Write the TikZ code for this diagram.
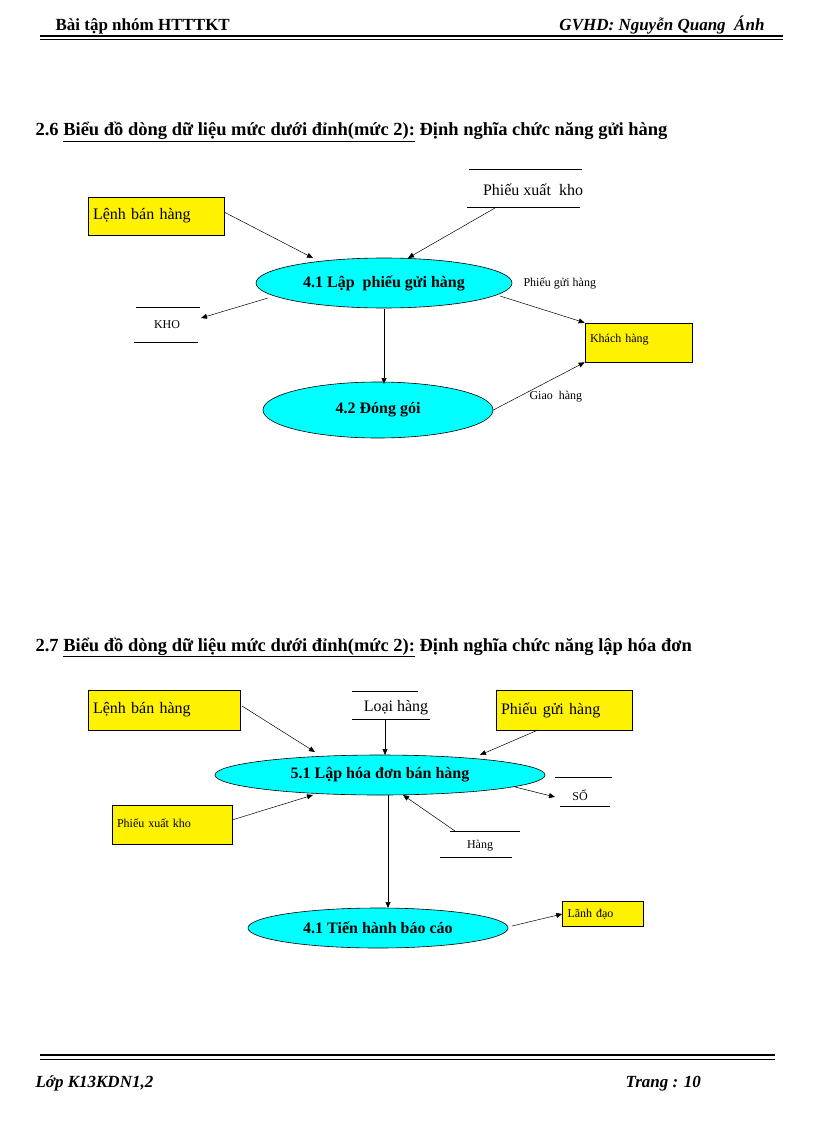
\documentclass[tikz,border=0pt]{standalone}
\usepackage{fontspec}
\setmainfont{Liberation Serif}
\usetikzlibrary{arrows.meta,shapes.geometric}
\definecolor{aqua}{RGB}{0,255,255}
\begin{document}
\begin{tikzpicture}[x=1pt,y=-1pt,
  flow/.style={draw,-{Triangle[length=6pt,width=5pt]},line width=0.5pt},
  ext/.style={draw,fill=yellow,line width=0.6pt,inner sep=0pt},
  proc/.style={draw,fill=aqua,ellipse,line width=0.6pt,inner sep=0pt,font=\fontsize{16}{18}\selectfont\bfseries},
  big/.style={font=\fontsize{16}{18}\selectfont},
  small/.style={font=\fontsize{12}{14}\selectfont}]
\useasboundingbox (0,0) rectangle (816,1123);
% header
\node[anchor=base west,font=\fontsize{17}{19}\selectfont\bfseries] (h1) at (52,31) {Bài tập nhóm HTTTKT};
\node[anchor=base east,font=\fontsize{17}{19}\selectfont\bfseries\itshape] (h2) at (768,31) {GVHD: Nguyễn Quang\ \ Ánh};
\draw[line width=2pt] (40,36) -- (783,36);
\draw[line width=0.6pt] (40,39.5) -- (783,39.5);
% footer
\draw[line width=2pt] (40,1055) -- (775,1055);
\draw[line width=1pt] (40,1059) -- (775,1059);
\node[anchor=base west,font=\fontsize{17}{19}\selectfont\bfseries\itshape] (f1) at (32,1087) {Lớp K13KDN1,2};
\node[anchor=base west,font=\fontsize{17}{19}\selectfont\bfseries\itshape] (f2) at (622,1087) {Trang : 10};
% section titles
\node[anchor=base west,font=\fontsize{18.5}{20}\selectfont\bfseries] (t1) at (32,136) {2.6 \underline{Biểu đồ dòng dữ liệu mức dưới đỉnh(mức 2):} Định nghĩa chức năng gửi hàng};
\node[anchor=base west,font=\fontsize{18.5}{20}\selectfont\bfseries] (t2) at (32,651) {2.7 \underline{Biểu đồ dòng dữ liệu mức dưới đỉnh(mức 2):} Định nghĩa chức năng lập hóa đơn};
% ---- diagram 1
\node[ext,big,minimum width=136pt,minimum height=38pt,text width=126pt,align=left] (lenh1) at (156,216) {Lệnh bán hàng};
\node[big] (pxk1) at (533,190) {Phiếu xuất\ \ kho};
\draw (469,169) -- (582,169); \draw (467,207) -- (580,207);
\node[proc,minimum width=256pt,minimum height=50pt] (p41) at (384,283) {4.1 Lập\ \ phiếu gửi hàng};
\node[small] (kho) at (167,325) {KHO};
\draw (136,307) -- (200,307); \draw (134,342) -- (198,342);
\node[ext,small,minimum width=107pt,minimum height=39pt,text width=97pt,align=left] (kh) at (638.5,342.5) {\raisebox{8pt}{Khách hàng}};
\node[proc,minimum width=230pt,minimum height=56pt] (p42) at (378,410) {4.2 Đóng gói};
\coordinate (a1) at (313,258);
\coordinate (a2) at (408,258);
\draw[flow] (224,212) -- (a1);
\draw[flow] (495,208) -- (a2);
\draw[flow] (268,298) -- (201,318);
\draw[flow] (384,309) -- (384,384);
\draw[flow] (500,296) -- (kh.north west);
\draw[flow] (p42.east) -- (kh.south west);
\node[small,anchor=west] (l1) at (520,283) {Phiếu gửi hàng};
\node[small,anchor=west] (l2) at (526,397) {Giao\ \ hàng};
% ---- diagram 2
\node[ext,big,minimum width=152pt,minimum height=40pt,text width=142pt,align=left] (lenh2) at (164,710) {Lệnh bán hàng};
\node[big] (loai) at (396,708) {Loại hàng};
\draw (352,691) -- (418,691); \draw (352,719) -- (430,719);
\node[ext,big,minimum width=136pt,minimum height=40pt,text width=126pt,align=left] (pgh) at (564,710) {Phiếu gửi hàng};
\node[proc,minimum width=330pt,minimum height=40pt] (p51) at (380,775) {5.1 Lập hóa đơn bán hàng};
\node[small] (so) at (580,795) {SỔ};
\draw (555,777) -- (612,777); \draw (560,806) -- (610,806);
\node[ext,small,minimum width=120pt,minimum height=39pt,text width=110pt,align=left] (pxk2) at (172,825) {\raisebox{4pt}{Phiếu xuất kho}};
\node[small] (hang) at (480,846) {Hàng};
\draw (450,831) -- (520,831); \draw (440,857) -- (512,857);
\node[proc,minimum width=260pt,minimum height=40pt] (p4b) at (378,928) {4.1 Tiến hành báo cáo};
\node[ext,small,minimum width=81pt,minimum height=25pt,text width=71pt,align=left] (ld) at (603,914) {Lãnh đạo};
\draw[flow] (242,706) -- (315,752);
\draw[flow] (385,719) -- (385,755);
\draw[flow] (538,730) -- (480,755);
\draw[flow] (515,787) -- (555,797);
\draw[flow] (232,820) -- (313,795);
\draw[flow] (455,831) -- (403,795);
\draw[flow] (388,795) -- (388,908);
\draw[flow] (512,926) -- (ld.west);
\end{tikzpicture}
\end{document}
